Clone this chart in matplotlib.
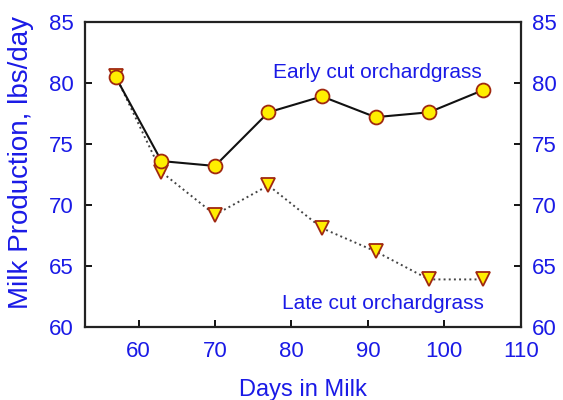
import matplotlib
matplotlib.use("Agg")
import matplotlib.pyplot as plt

# dados
days = [57, 63, 70, 77, 84, 91, 98, 105]
early_cut = [80.5, 73.6, 73.2, 77.6, 78.9, 77.2, 77.6, 79.4]
late_cut = [80.6, 72.7, 69.2, 71.6, 68.1, 66.2, 63.9, 63.9]

x_ticks = [60, 70, 80, 90, 100, 110]
y_ticks = [60, 65, 70, 75, 80, 85]

blue = "#1a1ae6"
plt.rcParams["font.family"] = ["Liberation Sans", "DejaVu Sans"]

fig = plt.figure(figsize=(5.63, 4.0), dpi=100)
ax = fig.add_axes([0.151, 0.1825, 0.774, 0.7625])

ax.plot(days, late_cut, linestyle=":", color="#444444", lw=1.4, marker="v",
        ms=10, mfc="#ffee00", mec="#a02810", mew=1.3, zorder=3)
ax.plot(days, early_cut, linestyle="-", color="#111111", lw=1.5, marker="o",
        ms=10, mfc="#ffee00", mec="#a02810", mew=1.3, zorder=4)

ax.set_xlim(53, 110)
ax.set_ylim(60, 85)
ax.set_xticks(x_ticks)
ax.set_yticks(y_ticks)
ax.tick_params(direction="in", length=5, width=1.3, labelsize=16,
               labelcolor=blue, right=True, labelright=True, pad=8)
ax.tick_params(axis="x", pad=10)
for s in ax.spines.values():
    s.set_linewidth(1.6)
    s.set_color("#222222")

ax.set_xlabel("Days in Milk", fontsize=17, color=blue, labelpad=12)
ax.set_ylabel("Milk Production, lbs/day", fontsize=20, color=blue)
ax.yaxis.set_label_coords(-0.117, 0.54)

ax.text(91.2, 80.9, "Early cut orchardgrass", fontsize=15, color=blue,
        ha="center", va="center")
ax.text(92.0, 61.9, "Late cut orchardgrass", fontsize=15, color=blue,
        ha="center", va="center")

fig.savefig("out.png", dpi=100)
